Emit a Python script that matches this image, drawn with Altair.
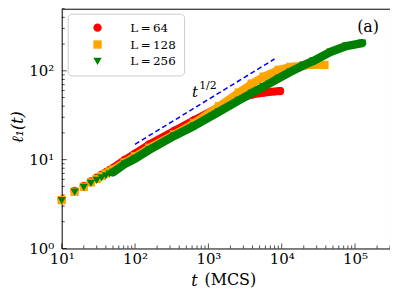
import altair as alt
import pandas as pd

# ---------------- data ----------------
series = ["L\u2009=\u200964", "L\u2009=\u2009128", "L\u2009=\u2009256"]
colors = ["#ff0000", "#ffa500", "#008000"]
shapes = ["circle", "square", "triangle-down"]

t_64 = [10, 15, 20, 25, 30, 35, 40, 45, 50, 72, 100, 156, 341, 638, 1393, 2600, 3906, 5680, 9500]
l_64 = [3.55, 4.44, 5.05, 5.69, 6.26, 6.76, 7.22, 7.64, 8.04, 9.9, 11.7, 14.8, 21.0, 27.8, 38.8, 48.3, 54.1, 56.9, 59.2]

t_128 = [10, 15, 20, 25, 30, 35, 40, 45, 50, 72, 100, 156, 341, 638, 1393, 2600, 3906, 5680, 9080, 13200, 19800, 38200]
l_128 = [3.5, 4.35, 4.94, 5.55, 6.06, 6.55, 6.99, 7.36, 7.74, 9.3, 10.9, 13.6, 19.2, 25.8, 39.9, 56.9, 71.7, 85.8, 102.6, 110.8, 115.1, 116.6]

t_256 = [10, 15, 20, 25, 30, 35, 40, 45, 50, 72, 100, 156, 341, 638, 1393, 2600, 3906, 5680, 9080, 13200, 19800, 27100, 46000, 76000, 125000]
l_256 = [3.45, 4.30, 4.88, 5.42, 5.84, 6.23, 6.55, 6.90, 7.18, 8.91, 10.26, 12.9, 18.5, 24.0, 34.6, 46.4, 56.2, 66.4, 82.5, 97.5, 115.1, 129.2, 162.6, 190.0, 205.0]

guide_t = [100, 8000]
guide_l = [14.9, 136]

x_major = [10, 100, 1000, 10000, 100000]
x_minor = [20, 30, 40, 50, 60, 70, 80, 90,
           200, 300, 400, 500, 600, 700, 800, 900,
           2000, 3000, 4000, 5000, 6000, 7000, 8000, 9000,
           20000, 30000, 40000, 50000, 60000, 70000, 80000, 90000,
           200000, 300000]
y_major = [1, 10, 100]
y_minor = [2, 3, 4, 5, 6, 7, 8, 9, 20, 30, 40, 50, 60, 70, 80, 90, 200, 300, 400, 500]

# ---------------- chart ----------------
W, H = 330, 241
FONT = "DejaVu Serif"
sup = "['⁰','¹','²','³','⁴','⁵'][round(log(datum.value)/LN10)]"

xscale = alt.Scale(type="log", domain=[10, 300000])
yscale = alt.Scale(type="log", domain=[1, 500])
xaxis = alt.Axis(values=x_major, labelExpr="'10' + " + sup, ticks=False, domain=False,
                 grid=False, title=None, labelFont=FONT, labelFontSize=15, labelColor="black",
                 labelPadding=3, labelFlush=False, labelOverlap=False)
yaxis = alt.Axis(values=y_major, labelExpr="'10' + " + sup, ticks=False, domain=False,
                 grid=False, title=None, labelFont=FONT, labelFontSize=15, labelColor="black",
                 labelPadding=8, labelOverlap=False)

cscale = alt.Scale(domain=series, range=colors)
sscale = alt.Scale(domain=series, range=shapes)
legend = alt.Legend(orient="none", legendX=6, legendY=5, title=None, fillColor="white",
                    strokeColor="#cccccc", cornerRadius=4, padding=8, labelFont=FONT,
                    labelFontSize=12, labelColor="black", symbolSize=70, symbolStrokeWidth=0,
                    symbolOffset=16, labelOffset=27, rowPadding=5, symbolOpacity=1)


def X(field="t"):
    return alt.X(f"{field}:Q", scale=xscale, axis=xaxis)


def Y(field="l"):
    return alt.Y(f"{field}:Q", scale=yscale, axis=yaxis)


layers = []
for name, col, ts, ls, sw in [(series[0], colors[0], t_64, l_64, 8),
                              (series[1], colors[1], t_128, l_128, 8),
                              (series[2], colors[2], t_256, l_256, 8.5)]:
    df = pd.DataFrame({"t": ts, "l": ls, "L": name})
    base = alt.Chart(df)
    layers.append(
        base.mark_point(filled=True, size=70, opacity=1, strokeWidth=0).encode(
            x=X(), y=Y(),
            color=alt.Color("L:N", scale=cscale, legend=legend),
            shape=alt.Shape("L:N", scale=sscale, legend=legend))
    )
    layers.append(
        base.transform_filter("datum.t >= 50").mark_line(
            color=col, strokeWidth=sw, strokeCap="round", strokeJoin="round").encode(
            x=X(), y=Y())
    )

guide = alt.Chart(pd.DataFrame({"t": guide_t, "l": guide_l})).mark_line(
    color="#0000ff", strokeWidth=1.5, strokeDash=[5, 3]).encode(x=X(), y=Y())

ticks = [
    alt.Chart(pd.DataFrame({"v": x_major})).mark_tick(orient="vertical", size=5, thickness=1,
                                                      color="black").encode(
        x=X("v"), y=alt.value(H - 2.5)),
    alt.Chart(pd.DataFrame({"v": x_minor})).mark_tick(orient="vertical", size=3, thickness=1,
                                                      color="black").encode(
        x=X("v"), y=alt.value(H - 1.5)),
    alt.Chart(pd.DataFrame({"v": y_major})).mark_tick(orient="horizontal", size=5, thickness=1,
                                                      color="black").encode(
        y=Y("v"), x=alt.value(2.5)),
    alt.Chart(pd.DataFrame({"v": y_minor})).mark_tick(orient="horizontal", size=3, thickness=1,
                                                      color="black").encode(
        y=Y("v"), x=alt.value(1.5)),
]


def label(txt, x, y, size, style="normal", angle=0, font=FONT):
    return alt.Chart(pd.DataFrame({"s": [txt]})).mark_text(
        font=font, fontSize=size, fontStyle=style, color="black", angle=angle,
        align="center", baseline="middle").encode(text="s:N", x=alt.value(x), y=alt.value(y))


texts = [
    label("t", 134, 84, 15, "italic"),
    label("1/2", 147, 78, 11),
    label("(a)", 308, 18, 16),
    label("t", 133.5, 274, 16, "italic"),
    label("(MCS)", 169.5, 273, 16),
    label("ℓ₁(t)", -44, 119, 16, "italic", angle=270),
]

chart = alt.layer(*layers, guide, *ticks, *texts).properties(
    width=W, height=H,
    autosize=alt.AutoSizeParams(type="none"),
    padding={"left": 54, "top": 0, "right": 0, "bottom": 40},
).configure_view(stroke="black", strokeWidth=1)

chart.save("out.html", embed_options={"renderer": "svg", "actions": False})
